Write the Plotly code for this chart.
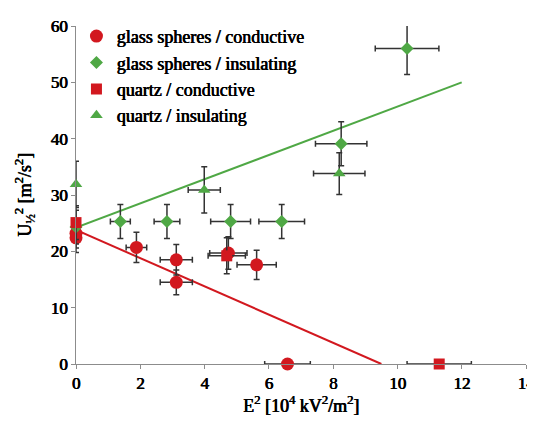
import plotly.graph_objects as go

# glass spheres / conductive
gc_x = [0, 0, 1.88, 3.12, 3.12, 4.74, 5.62, 6.58]
gc_y = [22.4, 23.2, 20.7, 18.5, 14.5, 19.7, 17.6, 0]
gc_xerr = [0, 0, 0.32, 0.5, 0.5, 0.58, 0.61, 0.71]
gc_yerr = [2.6, 2.6, 2.7, 2.7, 2.2, 2.9, 2.6, 0]

# glass spheres / insulating
gi_x = [0, 1.38, 2.83, 4.81, 6.4, 8.25, 10.3]
gi_y = [24.3, 25.3, 25.3, 25.3, 25.3, 39.1, 56.0]
gi_xerr = [0, 0.31, 0.4, 0.62, 0.71, 0.8, 0.99]
gi_yerr = [3.0, 3.0, 3.0, 3.0, 3.0, 3.9, 4.6]

# quartz / conductive
qc_x = [0, 4.69, 11.3]
qc_y = [25.1, 19.2, 0]
qc_xerr = [0, 0.58, 1.0]
qc_yerr = [3.0, 3.2, 0]

# quartz / insulating
qi_x = [0, 3.99, 8.19]
qi_y = [31.9, 30.9, 33.8]
qi_xerr = [0, 0.5, 0.8]
qi_yerr = [4.1, 4.1, 3.7]

# trend lines
ins_line_x = [0, 12]
ins_line_y = [24.2, 50]
con_line_x = [0, 9.5]
con_line_y = [23.8, 0]

x_ticks = [0, 2, 4, 6, 8, 10, 12, 14]
y_ticks = [0, 10, 20, 30, 40, 50, 60]

RED = "#d2181f"
GREEN = "#4fa845"
ERR = "#333333"
SERIF = "Liberation Serif"
FAUX_BOLD = "0.7px 0 0 #000, 0.35px 0 0 #000"

fig = go.Figure()
fig.add_trace(go.Scatter(x=con_line_x, y=con_line_y, mode="lines",
                         line=dict(color=RED, width=2), showlegend=False, hoverinfo="skip"))
fig.add_trace(go.Scatter(x=ins_line_x, y=ins_line_y, mode="lines",
                         line=dict(color=GREEN, width=2), showlegend=False, hoverinfo="skip"))

def err(arr):
    return dict(type="data", array=arr, visible=True, color=ERR, thickness=1.5, width=3)

series = [
    ("glass spheres / conductive", gc_x, gc_y, gc_xerr, gc_yerr, RED, "circle", 13),
    ("glass spheres / insulating", gi_x, gi_y, gi_xerr, gi_yerr, GREEN, "diamond", 10),
    ("quartz / conductive", qc_x, qc_y, qc_xerr, qc_yerr, RED, "square", 11),
    ("quartz / insulating", qi_x, qi_y, qi_xerr, qi_yerr, GREEN, "triangle-up", 11),
]
for i, (name, x, y, xe, ye, col, sym, sz) in enumerate(series):
    fig.add_trace(go.Scatter(
        x=x, y=y, name=name, mode="markers", legendgroup=f"g{i}",
        marker=dict(color=col, symbol=sym, size=sz, line=dict(width=0)),
        error_x=err(xe), error_y=err(ye), cliponaxis=False,
    ))

def sfont(size):
    return dict(family=SERIF, size=size, color="#000", shadow=FAUX_BOLD)

axis_common = dict(
    showline=True, linecolor="#8c8c8c", linewidth=1,
    ticks="outside", ticklen=4, tickcolor="#8c8c8c", tickwidth=1,
    showgrid=False, zeroline=False, automargin=False,
    ticklabeloverflow="allow", tickfont=sfont(17),
)

fig.update_layout(
    template="none",
    font=dict(family=SERIF, size=16, color="#000"),
    width=535, height=415,
    margin=dict(l=68, r=17, t=10, b=59),
    paper_bgcolor="white", plot_bgcolor="white",
    xaxis=dict(range=[0, 14], tickvals=x_ticks, **axis_common,
               title=dict(text="E<sup>2</sup> [10<sup>4</sup> kV<sup>2</sup>/m<sup>2</sup>]",
                          font=sfont(18), standoff=6)),
    yaxis=dict(range=[0, 60], tickvals=y_ticks, **axis_common,
               title=dict(text="U<sub>½</sub><sup>2</sup> [m<sup>2</sup>/s<sup>2</sup>]",
                          font=sfont(18), standoff=14)),
    legend=dict(x=0.001, y=1.024, xanchor="left", yanchor="top",
                bgcolor="rgba(0,0,0,0)", font=sfont(18),
                tracegroupgap=0, itemwidth=30),
    showlegend=True,
)

fig.write_html("out.html")
